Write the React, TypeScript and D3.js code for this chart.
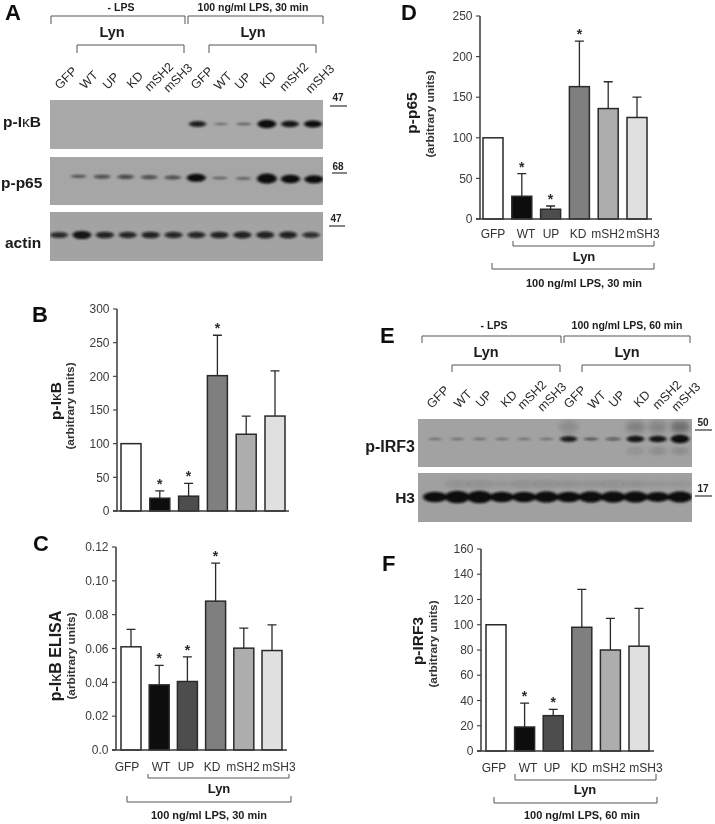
import React from "react";
import * as d3 from "d3";

const categories = ["GFP", "WT", "UP", "KD", "mSH2", "mSH3"];
const fills = ["#ffffff", "#0a0a0a", "#4e4e4e", "#7f7f7f", "#adadad", "#e0e0e0"];

const ikbValues = [100, 19, 22, 201, 114, 141];
const ikbUpper = [100, 30, 41, 261, 141, 208];
const ikbStars = [0, 1, 1, 1, 0, 0];
const ikbTicks = [0, 50, 100, 150, 200, 250, 300];

const elisaValues = [0.061, 0.0385, 0.0405, 0.088, 0.0602, 0.0588];
const elisaUpper = [0.0713, 0.05, 0.055, 0.1105, 0.072, 0.074];
const elisaStars = [0, 1, 1, 1, 0, 0];
const elisaTicks = [0, 0.02, 0.04, 0.06, 0.08, 0.1, 0.12];

const p65Values = [100, 28, 12, 163, 136, 125];
const p65Upper = [100, 56, 16, 219, 169, 150];
const p65Stars = [0, 1, 1, 1, 0, 0];
const p65Ticks = [0, 50, 100, 150, 200, 250];

const irf3Values = [100, 19, 28, 98, 80, 83];
const irf3Upper = [100, 38, 33, 128, 105, 113];
const irf3Stars = [0, 1, 1, 0, 0, 0];
const irf3Ticks = [0, 20, 40, 60, 80, 100, 120, 140, 160];

const laneNames = ["GFP", "WT", "UP", "KD", "mSH2", "mSH3", "GFP", "WT", "UP", "KD", "mSH2", "mSH3"];
const blotIkb = [0, 0, 0, 0, 0, 0, 0.72, 0.15, 0.22, 0.95, 0.78, 0.85];
const blotP65 = [0, 0.3, 0.42, 0.45, 0.42, 0.42, 0.85, 0.2, 0.22, 1, 0.88, 0.85];
const blotActin = [0.62, 0.8, 0.68, 0.65, 0.68, 0.65, 0.65, 0.68, 0.7, 0.7, 0.7, 0.6];
const blotIrf3 = [0.1, 0.1, 0.12, 0.09, 0.09, 0.1, 0.72, 0.28, 0.33, 0.78, 0.78, 0.95];
const blotIrf3Smear = [0, 0, 0, 0, 0, 0, 0.18, 0, 0, 0.25, 0.22, 0.4];
const blotIrf3Low = [0, 0, 0, 0, 0, 0, 0, 0, 0, 0.12, 0.16, 0.16];
const blotH3 = [0.85, 0.95, 0.95, 0.85, 0.85, 0.9, 0.85, 0.88, 0.88, 0.88, 0.82, 0.88];
const blotH3Smear = [0, 0.14, 0.16, 0.08, 0.16, 0.18, 0.12, 0.1, 0.16, 0.12, 0.08, 0.08];

const FONT = "'Liberation Sans', Arial, sans-serif";
const INK = "#2a2a2a";

function Kappa({ t }: { t: string }) {
  const i = t.indexOf("κ");
  if (i < 0) return <>{t}</>;
  return (
    <>
      {t.slice(0, i)}
      <tspan fontWeight="normal">κ</tspan>
      {t.slice(i + 1)}
    </>
  );
}

function Bracket({ x0, x1, y0, y1, color = "#555", w = 1 }: any) {
  return <path d={`M${x0},${y1}V${y0}H${x1}V${y1}`} fill="none" stroke={color} strokeWidth={w} />;
}

function BarPanel({ values, upper, stars, ticks, fmt, ax, y0, yTop, first, last, xEnd, max, barW = 20 }: any) {
  const y = d3.scaleLinear().domain([0, max]).range([y0, yTop]);
  const x = d3.scalePoint<string>().domain(categories).range([first, last]);
  return (
    <g fontFamily={FONT}>
      {categories.map((c, i) => {
        const cx = x(c)!;
        const hi = upper[i];
        return (
          <g key={c}>
            {hi > values[i] && (
              <path
                d={`M${cx},${y(values[i])}V${y(hi)}M${cx - 4.5},${y(hi)}H${cx + 4.5}`}
                stroke="#2a2a2a"
                strokeWidth={1.3}
                fill="none"
              />
            )}
            <rect x={cx - barW / 2} y={y(values[i])} width={barW} height={y0 - y(values[i])} fill={fills[i]} stroke="#2a2a2a" strokeWidth={1.5} />
            {stars[i] ? (
              <text x={cx} y={y(hi) - 2} textAnchor="middle" fontSize={14} fontWeight="bold" fill={INK}>
                *
              </text>
            ) : null}
          </g>
        );
      })}
      <path d={`M${ax},${yTop}V${y0}M${ax - 4},${y0}H${xEnd}`} stroke="#3a3a3a" strokeWidth={1.5} fill="none" />
      {ticks.map((t: number) => (
        <g key={t}>
          <line x1={ax - 4} x2={ax} y1={y(t)} y2={y(t)} stroke="#3a3a3a" strokeWidth={1.1} />
          <text x={ax - 7.5} y={y(t) + 4.2} textAnchor="end" fontSize={12} fill="#3a3a3a">
            {fmt ? fmt(t) : t}
          </text>
        </g>
      ))}
    </g>
  );
}

function YLabel({ main, mainX, mainY, subX, subY, mainSize = 15.5 }: any) {
  return (
    <g fontFamily={FONT} fontWeight="bold" fill="#1a1a1a">
      <text transform={`translate(${mainX},${mainY}) rotate(-90)`} textAnchor="middle" fontSize={mainSize}>
        <Kappa t={main} />
      </text>
      <text transform={`translate(${subX},${subY}) rotate(-90)`} textAnchor="middle" fontSize={11.8} fill="#333">
        (arbitrary units)
      </text>
    </g>
  );
}

function CatLabels({ centers, y }: any) {
  return (
    <g fontFamily={FONT} fontSize={12} fill="#333">
      {categories.map((c, i) => (
        <text key={c} x={centers[i]} y={y} textAnchor="middle">
          {c}
        </text>
      ))}
    </g>
  );
}

function Blot({ id, x, y, w, h, bg, first, last, bandY, values, bw = 18, bh = 6, tilt = 0, smear, smearY, low, lowY, smearH = 10 }: any) {
  const sx = d3.scalePoint<number>().domain(d3.range(12)).range([first, last]);
  return (
    <g>
      <rect x={x} y={y} width={w} height={h} fill={bg} />
      <clipPath id={id}>
        <rect x={x} y={y} width={w} height={h} />
      </clipPath>
      <g clipPath={`url(#${id})`}>
        {smear && (
          <g filter="url(#blurWide)">
            {smear.map((v: number, i: number) =>
              v > 0 ? <ellipse key={i} cx={sx(i)} cy={smearY} rx={bw / 2} ry={smearH / 2} fill="#222" opacity={v} /> : null
            )}
          </g>
        )}
        {low && (
          <g filter="url(#blurWide)">
            {low.map((v: number, i: number) =>
              v > 0 ? <ellipse key={i} cx={sx(i)} cy={lowY} rx={bw / 2 - 1} ry={2.4} fill="#222" opacity={v * 1.5} /> : null
            )}
          </g>
        )}
        <g filter="url(#blurBand)">
          {values.map((v: number, i: number) =>
            v > 0 ? (
              <ellipse
                key={i}
                cx={sx(i)}
                cy={bandY + tilt * i}
                rx={(bw * (0.72 + 0.28 * v)) / 2}
                ry={(bh * (0.28 + 0.85 * v * v)) / 2}
                fill="#0c0c0c"
                opacity={Math.min(1, 0.25 + v * 0.9)}
              />
            ) : null
          )}
        </g>
      </g>
    </g>
  );
}

function LaneLabels({ pos }: any) {
  return (
    <g fontFamily={FONT} fontSize={12.5} fill="#2a2a2a">
      {laneNames.map((n, i) => (
        <text key={i} transform={`translate(${pos[i][0]},${pos[i][1]}) rotate(-45)`} textAnchor="middle" dominantBaseline="central">
          {n}
        </text>
      ))}
    </g>
  );
}

function Mw({ label, tx, ty, x0, x1, y }: any) {
  return (
    <g>
      <text x={tx} y={ty} textAnchor="middle" fontFamily={FONT} fontWeight="bold" fontSize={10} fill="#222">
        {label}
      </text>
      <line x1={x0} x2={x1} y1={y} y2={y} stroke="#222" strokeWidth={1.1} />
    </g>
  );
}

function T({ x, y, size, children, anchor = "middle", fill = "#1a1a1a" }: any) {
  return (
    <text x={x} y={y} fontSize={size} fontWeight="bold" fontFamily={FONT} textAnchor={anchor} fill={fill}>
      {children}
    </text>
  );
}

const lanesA = [[66, 78], [89, 80], [111, 81], [135, 80], [159, 77], [178, 78], [202, 78], [223, 81], [243, 81], [268, 80], [294, 77], [320, 79]];
const lanesE = [[438, 397], [463, 399], [484, 399], [509, 399], [532, 395], [552, 397], [575, 397], [597, 400], [617, 399], [642, 399], [667, 395], [686, 397]];

export default function App() {
  return (
    <svg width={715} height={824} viewBox="0 0 715 824" style={{ position: "absolute", left: 0, top: 0, background: "#fff" }}>
      <defs>
        <filter id="blurBand" x="-10%" y="-100%" width="120%" height="300%">
          <feGaussianBlur stdDeviation="1.5 0.9" />
        </filter>
        <filter id="blurWide" x="-10%" y="-100%" width="120%" height="300%">
          <feGaussianBlur stdDeviation="2.2 2.2" />
        </filter>
        <filter id="soft">
          <feGaussianBlur stdDeviation="0.35" />
        </filter>
      </defs>
      <g filter="url(#soft)">
        {/* Panel letters */}
        <T x={5} y={20} size={22} anchor="start" fill="#111">A</T>
        <T x={32} y={322} size={22} anchor="start" fill="#111">B</T>
        <T x={33} y={551} size={22} anchor="start" fill="#111">C</T>
        <T x={401} y={20} size={22} anchor="start" fill="#111">D</T>
        <T x={380} y={343} size={22} anchor="start" fill="#111">E</T>
        <T x={382} y={571} size={22} anchor="start" fill="#111">F</T>

        {/* Panel A */}
        <T x={121} y={10.5} size={10.5}>- LPS</T>
        <T x={253} y={10.5} size={10.5}>100 ng/ml LPS, 30 min</T>
        <Bracket x0={51} x1={185} y0={16} y1={24} />
        <Bracket x0={188} x1={323} y0={16} y1={24} />
        <T x={112} y={37} size={14.5}>Lyn</T>
        <T x={253} y={37} size={14.5}>Lyn</T>
        <Bracket x0={77} x1={184} y0={45} y1={53} />
        <Bracket x0={209} x1={316} y0={45} y1={53} />
        <LaneLabels pos={lanesA} />
        <Blot id="a1" x={50} y={100} w={273} h={49} bg="#a9a9a9" first={59} last={313} bandY={124} values={blotIkb} bw={19} bh={8} />
        <Blot id="a2" x={50} y={157} w={273} h={48} bg="#a6a6a6" first={55} last={314} bandY={176} values={blotP65} tilt={0.3} bw={20} bh={9} />
        <Blot id="a3" x={50} y={212} w={273} h={49} bg="#a3a3a3" first={59} last={311} bandY={235} values={blotActin} bw={20} bh={10} />
        <T x={3} y={127} size={15.5} anchor="start"><Kappa t="p-IκB" /></T>
        <T x={1} y={188} size={15.5} anchor="start">p-p65</T>
        <T x={5} y={248} size={15.5} anchor="start">actin</T>
        <Mw label="47" tx={338} ty={101} x0={330} x1={347} y={106} />
        <Mw label="68" tx={338} ty={170} x0={332} x1={347} y={173} />
        <Mw label="47" tx={336} ty={222} x0={329} x1={345} y={226} />

        {/* Panel B */}
        <BarPanel values={ikbValues} upper={ikbUpper} stars={ikbStars} ticks={ikbTicks} ax={117} y0={511} yTop={309} first={131} last={275} xEnd={289} max={300} />
        <YLabel main="p-IκB" mainX={61} mainY={401} subX={74} subY={406} />

        {/* Panel C */}
        <BarPanel values={elisaValues} upper={elisaUpper} stars={elisaStars} ticks={elisaTicks} fmt={(t: number) => (t === 0 ? "0.0" : t.toFixed(2))} ax={116} y0={750} yTop={547} first={131} last={272} xEnd={287} max={0.12} />
        <YLabel main="p-IκB ELISA" mainX={61} mainY={656} subX={75} subY={656} mainSize={16} />
        <CatLabels centers={[127, 161, 186, 212, 243, 279]} y={771} />
        <Bracket x0={148} x1={289} y0={778} y1={774} />
        <T x={219} y={793} size={13}>Lyn</T>
        <Bracket x0={127} x1={291} y0={802} y1={796} />
        <T x={209} y={819} size={11}>100 ng/ml LPS, 30 min</T>

        {/* Panel D */}
        <BarPanel values={p65Values} upper={p65Upper} stars={p65Stars} ticks={p65Ticks} ax={480} y0={219} yTop={16} first={493} last={637} xEnd={652} max={250} />
        <YLabel main="p-p65" mainX={417} mainY={113} subX={434} subY={114} />
        <CatLabels centers={[493, 526, 551, 578, 608, 643]} y={238} />
        <Bracket x0={513} x1={654} y0={246} y1={241} />
        <T x={584} y={261} size={13}>Lyn</T>
        <Bracket x0={492} x1={654} y0={269} y1={263} />
        <T x={584} y={287} size={11}>100 ng/ml LPS, 30 min</T>

        {/* Panel E */}
        <T x={494} y={329} size={10.5}>- LPS</T>
        <T x={627} y={329} size={10.5}>100 ng/ml LPS, 60 min</T>
        <Bracket x0={422} x1={561} y0={336} y1={343} />
        <Bracket x0={564} x1={690} y0={336} y1={343} />
        <T x={486} y={357} size={14.5}>Lyn</T>
        <T x={627} y={357} size={14.5}>Lyn</T>
        <Bracket x0={452} x1={560} y0={365} y1={372} />
        <Bracket x0={582} x1={690} y0={365} y1={372} />
        <LaneLabels pos={lanesE} />
        <Blot id="e1" x={418} y={419} w={274} h={48} bg="#a2a2a2" first={435} last={680} bandY={439} values={blotIrf3} bw={19} bh={8} smear={blotIrf3Smear} smearY={427} smearH={12} low={blotIrf3Low} lowY={451} />
        <Blot id="e2" x={418} y={473} w={274} h={49} bg="#a0a0a0" first={435} last={680} bandY={497} values={blotH3} bw={25} bh={12} smear={blotH3Smear} smearY={484} smearH={6} />
        <T x={415} y={452} size={16} anchor="end">p-IRF3</T>
        <T x={415} y={503} size={15.5} anchor="end">H3</T>
        <Mw label="50" tx={703} ty={426} x0={695} x1={712} y={430} />
        <Mw label="17" tx={703} ty={492} x0={695} x1={712} y={496} />

        {/* Panel F */}
        <BarPanel values={irf3Values} upper={irf3Upper} stars={irf3Stars} ticks={irf3Ticks} ax={481} y0={751} yTop={549} first={496} last={639} xEnd={654} max={160} />
        <YLabel main="p-IRF3" mainX={423} mainY={641} subX={437} subY={644} />
        <CatLabels centers={[494, 528, 552, 579, 609, 646]} y={772} />
        <Bracket x0={515} x1={656} y0={780} y1={774} />
        <T x={585} y={794} size={13}>Lyn</T>
        <Bracket x0={494} x1={657} y0={803} y1={797} />
        <T x={582} y={819} size={11}>100 ng/ml LPS, 60 min</T>
      </g>
    </svg>
  );
}
